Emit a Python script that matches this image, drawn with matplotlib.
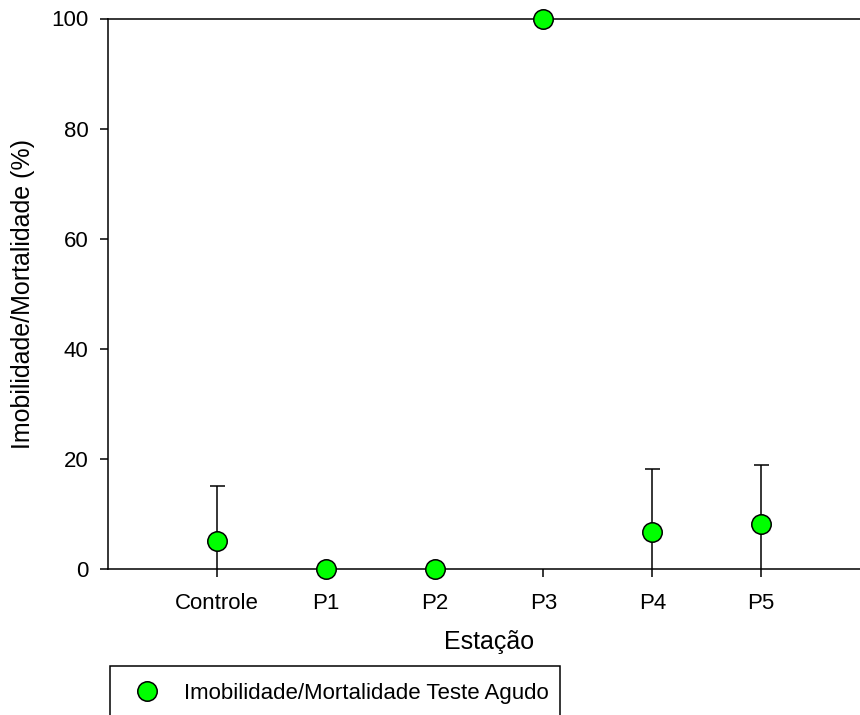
import matplotlib
matplotlib.use('Agg')
import matplotlib.pyplot as plt

plt.rcParams['font.family'] = ['Liberation Sans', 'DejaVu Sans']

# data
estacoes = ['Controle', 'P1', 'P2', 'P3', 'P4', 'P5']
media = [5.0, 0.0, 0.0, 100.0, 6.7, 8.1]
desvio = [10.0, 0.0, 0.0, 0.0, 11.5, 10.8]
y_ticks = [0, 20, 40, 60, 80, 100]

pos = list(range(1, len(estacoes) + 1))

fig = plt.figure(figsize=(8.6, 7.15), dpi=100)
ax = fig.add_axes([108 / 860, 146 / 715, 762 / 860, 550.5 / 715])

ax.errorbar(pos, media, yerr=desvio, fmt='none', ecolor='black',
            elinewidth=1.1, capsize=5.4, capthick=1.1, zorder=2)
ax.plot(pos, media, linestyle='none', marker='o', markersize=14,
        markerfacecolor='#00ff00', markeredgecolor='black',
        markeredgewidth=1.1, clip_on=False, zorder=3,
        label='Imobilidade/Mortalidade Teste Agudo')

ax.set_xlim(0, 7)
ax.set_ylim(0, 100)
ax.set_xticks(pos)
ax.set_xticklabels(estacoes)
ax.set_yticks(y_ticks)
ax.tick_params(direction='out', length=6, width=1.1, labelsize=16,
               top=False, right=False)
ax.tick_params(axis='x', pad=11)
ax.tick_params(axis='y', pad=8)
ax.spines['right'].set_visible(False)
for s in ['left', 'bottom', 'top']:
    ax.spines[s].set_linewidth(1.1)

ax.set_xlabel('Estação', fontsize=18)
ax.set_ylabel('Imobilidade/Mortalidade (%)', fontsize=18)
ax.xaxis.set_label_coords(0.5, -0.11)
ax.yaxis.set_label_coords(-0.096, 0.5)

leg = fig.legend(loc='upper left',
                 bbox_to_anchor=(110 / 860, 0, 450 / 860, 1 - 666 / 715),
                 mode='expand', numpoints=1, fontsize=16, fancybox=False,
                 framealpha=1, borderpad=0.75, handlelength=1.8,
                 handletextpad=0.8, borderaxespad=0)
leg.get_frame().set_edgecolor('black')
leg.get_frame().set_linewidth(1.1)

fig.savefig('out.png', dpi=100)
